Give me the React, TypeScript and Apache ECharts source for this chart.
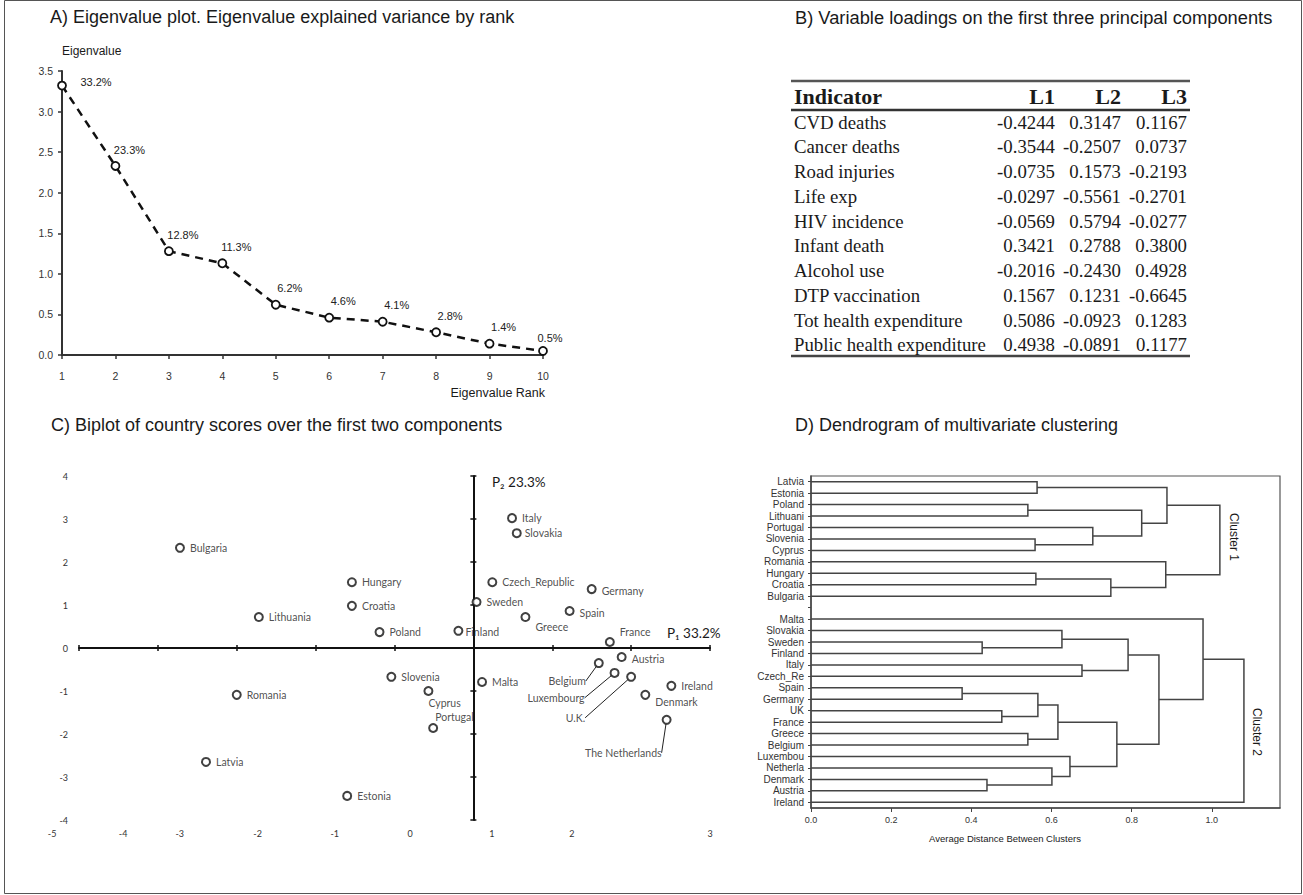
import React, { useEffect, useRef } from "react";
import * as echarts from "echarts";

// ---------- Panel A data ----------
const ranks = [1, 2, 3, 4, 5, 6, 7, 8, 9, 10];
const eigenvalues = [3.32, 2.33, 1.28, 1.13, 0.62, 0.46, 0.41, 0.28, 0.14, 0.05];
const explainedPct = ["33.2%", "23.3%", "12.8%", "11.3%", "6.2%", "4.6%", "4.1%", "2.8%", "1.4%", "0.5%"];

// ---------- Panel B data ----------
const indicators = [
  "CVD deaths", "Cancer deaths", "Road injuries", "Life exp", "HIV incidence",
  "Infant death", "Alcohol use", "DTP vaccination", "Tot health expenditure", "Public health expenditure",
];
const loadingL1 = [-0.4244, -0.3544, -0.0735, -0.0297, -0.0569, 0.3421, -0.2016, 0.1567, 0.5086, 0.4938];
const loadingL2 = [0.3147, -0.2507, 0.1573, -0.5561, 0.5794, 0.2788, -0.243, 0.1231, -0.0923, -0.0891];
const loadingL3 = [0.1167, 0.0737, -0.2193, -0.2701, -0.0277, 0.38, 0.4928, -0.6645, 0.1283, 0.1177];

// ---------- Panel C data ----------
const countries = [
  "Bulgaria", "Lithuania", "Hungary", "Croatia", "Poland", "Finland", "Sweden", "Czech_Republic",
  "Italy", "Slovakia", "Greece", "Spain", "Germany", "France", "Austria", "Belgium", "Luxembourg",
  "U.K.", "Ireland", "Denmark", "The Netherlands", "Malta", "Slovenia", "Cyprus", "Portugal",
  "Romania", "Latvia", "Estonia",
];
const scoreP1 = [-3.72, -2.72, -1.54, -1.54, -1.19, -0.19, 0.04, 0.24, 0.49, 0.55, 0.66, 1.22, 1.5, 1.73, 1.88, 1.59, 1.79, 2.0, 2.51, 2.18, 2.45, 0.11, -1.04, -0.57, -0.51, -3.0, -3.39, -1.6];
const scoreP2 = [2.33, 0.72, 1.53, 0.98, 0.37, 0.4, 1.07, 1.53, 3.02, 2.67, 0.72, 0.86, 1.37, 0.14, -0.21, -0.35, -0.58, -0.67, -0.88, -1.09, -1.67, -0.79, -0.67, -1.0, -1.86, -1.09, -2.65, -3.44];
// bottom tick labels of the biplot (printed offset from the ticks in the source figure)
const bipXTickLabels = ["-5", "-4", "-3", "-2", "-1", "0", "1", "2", "3"];
const bipXTickLabelAt = [-5.34, -4.4, -3.65, -2.62, -1.6, -0.6, 0.48, 1.54, 3.37];

// ---------- Panel D data ----------
const dendroLeaves = [
  "Latvia", "Estonia", "Poland", "Lithuani", "Portugal", "Slovenia", "Cyprus", "Romania", "Hungary",
  "Croatia", "Bulgaria", "", "Malta", "Slovakia", "Sweden", "Finland", "Italy", "Czech_Re", "Spain",
  "Germany", "UK", "France", "Greece", "Belgium", "Luxembou", "Netherla", "Denmark", "Austria", "Ireland",
];
// [childA, childB, merge distance]; merged nodes are referred to as m<index>
const dendroMerges: [string, string, number][] = [
  ["Latvia", "Estonia", 0.564], // m0
  ["Poland", "Lithuani", 0.541], // m1
  ["Slovenia", "Cyprus", 0.559], // m2
  ["Portugal", "m2", 0.703], // m3
  ["m1", "m3", 0.825], // m4
  ["m0", "m4", 0.888], // m5
  ["Hungary", "Croatia", 0.561], // m6
  ["m6", "Bulgaria", 0.748], // m7
  ["Romania", "m7", 0.885], // m8
  ["m5", "m8", 1.02], // m9
  ["Sweden", "Finland", 0.427], // m10
  ["Slovakia", "m10", 0.626], // m11
  ["Italy", "Czech_Re", 0.676], // m12
  ["m11", "m12", 0.791], // m13
  ["Spain", "Germany", 0.377], // m14
  ["UK", "France", 0.476], // m15
  ["m14", "m15", 0.566], // m16
  ["Greece", "Belgium", 0.541], // m17
  ["m16", "m17", 0.616], // m18
  ["Denmark", "Austria", 0.439], // m19
  ["Netherla", "m19", 0.601], // m20
  ["Luxembou", "m20", 0.646], // m21
  ["m18", "m21", 0.763], // m22
  ["m13", "m22", 0.868], // m23
  ["Malta", "m23", 0.978], // m24
  ["m24", "Ireland", 1.08], // m25
];

// ---------- styling helpers (not data) ----------
const SANS = '"Liberation Sans", Arial, sans-serif';
const SERIF = '"Liberation Serif", "Times New Roman", serif';
const CAL = 'Lato, "Open Sans", sans-serif';

// label nudges for the biplot (pixels)
const labelTweaks: Record<string, { pos: string; dx: number; dy: number }> = {
  Greece: { pos: "right", dx: 0, dy: 10 },
  France: { pos: "right", dx: 0, dy: -10 },
  Finland: { pos: "right", dx: -3, dy: 1 },
  Germany: { pos: "right", dx: 0, dy: 2 },
  Spain: { pos: "right", dx: 0, dy: 2 },
  Slovakia: { pos: "right", dx: -2, dy: 0 },
  Denmark: { pos: "right", dx: 0, dy: 7 },
  Austria: { pos: "right", dx: 0, dy: 2 },
  Cyprus: { pos: "right", dx: -10, dy: 12 },
  Portugal: { pos: "right", dx: -8, dy: -11 },
  Belgium: { pos: "left", dx: -3, dy: 18 },
  Luxembourg: { pos: "left", dx: -20, dy: 25 },
  "U.K.": { pos: "left", dx: -36, dy: 41 },
  "The Netherlands": { pos: "left", dx: 5, dy: 33 },
};
const leaderAnchor: Record<string, [number, number]> = {
  Belgium: [1.0, 0.15],
  Luxembourg: [1.05, 0.55],
  "U.K.": [1.12, 0.4],
  "The Netherlands": [0.52, 0.85],
};

function txt(text: string, x: number, y: number, font: string, align = "left", extra: any = {}) {
  return {
    type: "text",
    x,
    y,
    silent: true,
    ...extra,
    style: {
      text,
      font,
      fill: "#1a1a1a",
      align,
      verticalAlign: "middle",
      textAlign: align,
      textVerticalAlign: "middle",
    },
  };
}
function hline(x1: number, x2: number, y: number, w: number, color = "#333") {
  return { type: "line", silent: true, shape: { x1, y1: y, x2, y2: y }, style: { stroke: color, lineWidth: w } };
}

export default function App() {
  const ref = useRef<HTMLDivElement>(null);

  useEffect(() => {
    if (!ref.current) return;
    const chart = echarts.init(ref.current, null, { renderer: "svg" });

    // dendrogram segment geometry from merges
    const pos: Record<string, { x: number; y: number }> = {};
    dendroLeaves.forEach((n, i) => {
      if (n) pos[n] = { x: 0, y: i };
    });
    const dendroSegs = dendroMerges.map(([a, b, h], k) => {
      const pa = pos[a];
      const pb = pos[b];
      pos["m" + k] = { x: h, y: (pa.y + pb.y) / 2 };
      return [h, pa.y, pb.y, pa.x, pb.x];
    });

    // table graphics
    const tableEls: any[] = [];
    tableEls.push(hline(791, 1190, 81, 2.5, "#555"));
    tableEls.push(hline(791, 1190, 110, 2.5, "#333"));
    tableEls.push(hline(791, 1190, 356, 2.5, "#444"));
    const hdrFont = "bold 22px " + SERIF;
    const rowFont = "18.8px " + SERIF;
    tableEls.push(txt("Indicator", 794, 96, hdrFont));
    tableEls.push(txt("L1", 1055, 96, hdrFont, "right"));
    tableEls.push(txt("L2", 1121, 96, hdrFont, "right"));
    tableEls.push(txt("L3", 1187, 96, hdrFont, "right"));
    indicators.forEach((name, i) => {
      const y = 122 + i * 24.75;
      tableEls.push(txt(name, 794, y, rowFont));
      tableEls.push(txt(loadingL1[i].toFixed(4), 1055, y, rowFont, "right"));
      tableEls.push(txt(loadingL2[i].toFixed(4), 1121, y, rowFont, "right"));
      tableEls.push(txt(loadingL3[i].toFixed(4), 1187, y, rowFont, "right"));
    });

    const graphics: any[] = [
      { type: "rect", silent: true, z: -10, shape: { x: 4.5, y: 0.5, width: 1297, height: 893 }, style: { fill: "none", stroke: "#555", lineWidth: 1 } },
      txt("A) Eigenvalue plot. Eigenvalue explained variance by rank", 50, 17, "18px " + SANS),
      txt("B) Variable loadings on the first three principal components", 795, 17, "18.3px " + SANS),
      txt("C) Biplot of country scores over the first two components", 51, 425, "18px " + SANS),
      txt("D) Dendrogram of multivariate clustering", 795, 425, "18px " + SANS),
      txt("Eigenvalue", 62, 51, "12px " + SANS),
      txt("Eigenvalue Rank", 545, 393, "12.5px " + SANS, "right"),
      txt("P\u2082 23.3%", 492, 482, "13.5px " + CAL),
      txt("P\u2081 33.2%", 667, 633, "13.5px " + CAL),
      txt("Average Distance Between Clusters", 1005, 838, "9.5px " + SANS, "center"),
      txt("Cluster 1", 1234, 537, "12px " + SANS, "center", { rotation: -Math.PI / 2 }),
      txt("Cluster 2", 1257, 732, "12px " + SANS, "center", { rotation: -Math.PI / 2 }),
      ...tableEls,
    ];

    const bipAxisLine = { color: "#111", width: 2 };
    const bipTick = { color: "#111", width: 1.5 };

    const option: any = {
      animation: false,
      backgroundColor: "#fff",
      grid: [
        { left: 62, top: 71, width: 481, height: 284, containLabel: false },
        { left: 79, top: 476, width: 631, height: 344, containLabel: false },
        { left: 811, top: 476, width: 469, height: 332, containLabel: false, show: true, borderColor: "#555", borderWidth: 1.2, backgroundColor: "transparent" },
        { left: 40, top: 476, width: 680, height: 344, containLabel: false },
      ],
      xAxis: [
        {
          gridIndex: 0, type: "value", min: 1, max: 10, interval: 1,
          axisLine: { onZero: false, lineStyle: { color: "#333", width: 2 } },
          axisTick: { length: 4, lineStyle: { color: "#333", width: 1.5 } },
          axisLabel: { fontSize: 10.5, color: "#333", margin: 15, fontFamily: SANS },
          splitLine: { show: false },
        },
        {
          gridIndex: 1, type: "value", min: -5, max: 3, interval: 1, position: "bottom",
          axisLine: { onZero: true, onZeroAxisIndex: 1, lineStyle: bipAxisLine },
          axisTick: { inside: true, length: 3, lineStyle: bipTick },
          axisLabel: { show: false }, splitLine: { show: false },
        },
        {
          gridIndex: 1, type: "value", min: -5, max: 3, interval: 1, position: "bottom",
          axisLine: { show: false, onZero: true, onZeroAxisIndex: 1 },
          axisTick: { inside: false, length: 3, lineStyle: bipTick },
          axisLabel: { show: false }, splitLine: { show: false },
        },
        {
          gridIndex: 3, type: "value", min: -5.5, max: 3.5, position: "bottom",
          axisLine: { show: false, onZero: false },
          axisTick: { show: false },
          axisLabel: {
            fontSize: 9, color: "#333", margin: 9, fontFamily: CAL,
            customValues: bipXTickLabelAt,
            formatter: (v: number) => {
              let best = 0;
              bipXTickLabelAt.forEach((p, i) => {
                if (Math.abs(p - v) < Math.abs(bipXTickLabelAt[best] - v)) best = i;
              });
              return bipXTickLabels[best];
            },
          },
          splitLine: { show: false },
        },
        {
          gridIndex: 2, type: "value", min: 0, max: 1.17, interval: 0.2,
          axisLine: { onZero: false, lineStyle: { color: "#444", width: 1.5 } },
          axisTick: { length: 4, lineStyle: { color: "#444" } },
          axisLabel: { fontSize: 9, color: "#333", margin: 7, fontFamily: SANS, showMaxLabel: false, formatter: (v: number) => v.toFixed(1) },
          splitLine: { show: false },
        },
      ],
      yAxis: [
        {
          gridIndex: 0, type: "value", min: 0, max: 3.5, interval: 0.5,
          axisLine: { show: true, onZero: false, lineStyle: { color: "#333", width: 2 } },
          axisTick: { show: true, length: 4, lineStyle: { color: "#333", width: 1.5 } },
          axisLabel: { fontSize: 10.5, color: "#333", margin: 9, fontFamily: SANS, formatter: (v: number) => v.toFixed(1) },
          splitLine: { show: false },
        },
        {
          gridIndex: 1, type: "value", min: -4, max: 4, interval: 1, position: "left",
          axisLine: { show: true, onZero: true, onZeroAxisIndex: 1, lineStyle: bipAxisLine },
          axisTick: { show: true, inside: true, length: 3, lineStyle: bipTick },
          axisLabel: { show: false }, splitLine: { show: false },
        },
        {
          gridIndex: 1, type: "value", min: -4, max: 4, interval: 1, position: "left",
          axisLine: { show: false, onZero: true, onZeroAxisIndex: 1 },
          axisTick: { show: true, inside: false, length: 3, lineStyle: bipTick },
          axisLabel: { show: false }, splitLine: { show: false },
        },
        {
          gridIndex: 1, type: "value", min: -4, max: 4, interval: 1, position: "left",
          axisLine: { show: false, onZero: false },
          axisTick: { show: false },
          axisLabel: { fontSize: 9, color: "#333", margin: 11, fontFamily: CAL },
          splitLine: { show: false },
        },
        {
          gridIndex: 2, type: "category", data: dendroLeaves, inverse: true,
          axisLine: { show: true, onZero: false, lineStyle: { color: "#444", width: 1.5 } },
          axisTick: { show: true, alignWithLabel: true, length: 3, interval: 0, lineStyle: { color: "#444" } },
          axisLabel: { fontSize: 10, color: "#333", margin: 7, interval: 0, fontFamily: SANS },
          splitLine: { show: false },
        },
        { gridIndex: 2, type: "value", min: -0.5, max: 28.5, inverse: true, show: false, splitLine: { show: false } },
        { gridIndex: 3, type: "value", min: 0, max: 1, show: false, splitLine: { show: false } },
      ],
      series: [
        {
          type: "line",
          xAxisIndex: 0,
          yAxisIndex: 0,
          data: ranks.map((r, i) => [r, eigenvalues[i]]),
          symbol: "circle",
          symbolSize: 8,
          lineStyle: { color: "#111", width: 2.5, type: [8, 6] },
          itemStyle: { color: "#fff", borderColor: "#111", borderWidth: 1.8 },
          label: {
            show: true,
            position: "top",
            distance: 5,
            fontSize: 11,
            color: "#222",
            fontFamily: SANS,
            formatter: (p: any) => explainedPct[p.dataIndex],
          },
          labelLayout: (p: any) => {
            if (p.dataIndex === 0) return { dx: 34, dy: 12 };
            if (p.dataIndex === 9) return { dx: 7, dy: 2 };
            return { dx: 14, dy: -1 };
          },
          z: 5,
        },
        {
          type: "scatter",
          xAxisIndex: 1,
          yAxisIndex: 1,
          symbol: "circle",
          symbolSize: 8,
          itemStyle: { color: "#fff", borderColor: "#111", borderWidth: 2 },
          data: countries.map((c, i) => {
            const t = labelTweaks[c];
            return {
              value: [scoreP1[i], scoreP2[i]],
              name: c,
              label: { position: t ? t.pos : "right" },
              labelLine: { show: !!leaderAnchor[c], lineStyle: { color: "#222", width: 1 } },
            };
          }),
          label: {
            show: true,
            distance: 5,
            fontSize: 10.5,
            color: "#222",
            fontFamily: CAL,
            formatter: (p: any) => countries[p.dataIndex],
          },
          labelLayout: (p: any) => {
            const name = countries[p.dataIndex];
            const t = labelTweaks[name];
            if (!t) return {};
            const A = leaderAnchor[name];
            if (!A) return { dx: t.dx, dy: t.dy };
            const lr = p.labelRect;
            const r = p.rect;
            const cx = r.x + r.width / 2;
            const cy = r.y + r.height / 2;
            const ex = lr.x + t.dx + lr.width * A[0];
            const ey = lr.y + t.dy + lr.height * A[1];
            const len = Math.hypot(cx - ex, cy - ey);
            const k = (len - 5) / len;
            const sx = ex + (cx - ex) * k;
            const sy = ey + (cy - ey) * k;
            return { dx: t.dx, dy: t.dy, labelLinePoints: [[sx, sy], [(ex + sx) / 2, (ey + sy) / 2], [ex, ey]] };
          },
          z: 5,
        },
        {
          type: "custom",
          xAxisIndex: 4,
          yAxisIndex: 5,
          data: dendroSegs,
          encode: { x: 0, y: 1 },
          renderItem: (_params: any, api: any) => {
            const h = api.value(0);
            const y1 = api.value(1);
            const y2 = api.value(2);
            const x1 = api.value(3);
            const x2 = api.value(4);
            return {
              type: "polyline",
              shape: { points: [api.coord([x1, y1]), api.coord([h, y1]), api.coord([h, y2]), api.coord([x2, y2])] },
              style: { stroke: "#444", lineWidth: 1.5, fill: "none" },
            };
          },
          z: 3,
        },
      ],
      graphic: graphics,
    };

    chart.setOption(option);
    return () => chart.dispose();
  }, []);

  return (
    <div
      ref={ref}
      style={{ position: "absolute", left: 0, top: 0, width: 1303, height: 895, background: "#fff" }}
    />
  );
}
